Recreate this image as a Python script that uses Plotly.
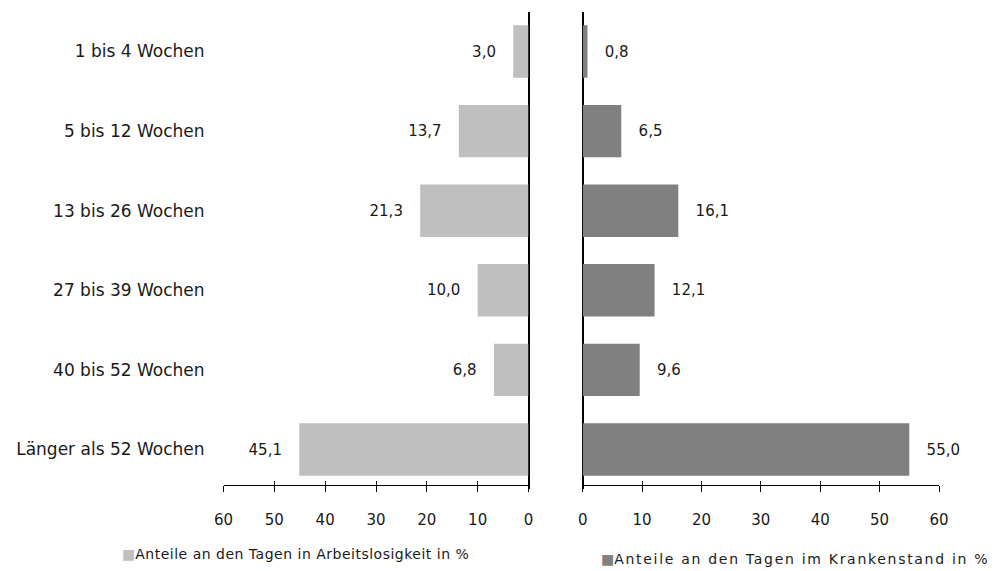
import plotly.graph_objects as go

categories = ["1 bis 4 Wochen", "5 bis 12 Wochen", "13 bis 26 Wochen",
              "27 bis 39 Wochen", "40 bis 52 Wochen", "Länger als 52 Wochen"]
arbeitslos = [3.0, 13.7, 21.3, 10.0, 6.8, 45.1]
kranken = [0.8, 6.5, 16.1, 12.1, 9.6, 55.0]
tickvals = [0, 10, 20, 30, 40, 50, 60]
name_left = "Anteile an den Tagen in Arbeitslosigkeit in %"
name_right = "Anteile an den Tagen im Krankenstand in %"

FONT = "DejaVu Sans"
C_LEFT = "#BFBFBF"
C_RIGHT = "#808080"
TXT = "#1a1a1a"
PAD = "\u00a0\u00a0\u00a0"

def fmt(v):
    return f"{v:.1f}".replace(".", ",")

fig = go.Figure()
fig.add_trace(go.Bar(
    y=categories, x=arbeitslos, orientation="h", name=name_left,
    marker=dict(color=C_LEFT, line=dict(width=0)),
    text=[fmt(v) + PAD for v in arbeitslos], textposition="outside",
    textfont=dict(size=15, color=TXT), cliponaxis=False,
    xaxis="x", yaxis="y", width=0.658, showlegend=False, hoverinfo="skip",
))
fig.add_trace(go.Bar(
    y=categories, x=kranken, orientation="h", name=name_right,
    marker=dict(color=C_RIGHT, line=dict(width=0)),
    text=[PAD + fmt(v) for v in kranken], textposition="outside",
    textfont=dict(size=15, color=TXT), cliponaxis=False,
    xaxis="x2", yaxis="y2", width=0.658, showlegend=False, hoverinfo="skip",
))
# invisible helpers carrying the inner half of the crossing tick marks
for xa, ya in (("x3", "y"), ("x4", "y2")):
    fig.add_trace(go.Scatter(
        x=[min(tickvals), max(tickvals)], y=[categories[0], categories[0]],
        mode="none", xaxis=xa, yaxis=ya, showlegend=False, hoverinfo="skip",
    ))

W, H = 998, 571
ybot, ytop = 489.3, 11.7
ydom = [1 - ybot / H, 1 - ytop / H]
xpos = 1 - 485 / H
dom_l = [223.5 / W, 528.5 / W]
dom_r = [582.7 / W, 939 / W]

axis_common = dict(
    tickvals=tickvals, ticks="outside", ticklen=6, tickcolor="black",
    tickwidth=1.3, showline=True, linecolor="black", linewidth=1.3,
    showgrid=False, zeroline=True, zerolinecolor="black", zerolinewidth=1.6,
    tickfont=dict(size=15, color=TXT), fixedrange=True, automargin=False,
    anchor="free", position=xpos, ticklabelstandoff=15,
)
inner = dict(
    tickvals=tickvals, ticks="inside", ticklen=4, tickcolor="black",
    tickwidth=1.3, showline=False, showgrid=False, zeroline=False,
    showticklabels=False, fixedrange=True, automargin=False,
    anchor="free", position=xpos,
)

fig.update_layout(
    width=W, height=H,
    margin=dict(l=0, r=0, t=0, b=0, autoexpand=False),
    paper_bgcolor="white", plot_bgcolor="rgba(0,0,0,0)",
    font=dict(family=FONT, size=15, color=TXT),
    xaxis=dict(domain=dom_l, range=[60, 0], **axis_common),
    xaxis2=dict(domain=dom_r, range=[0, 60], **axis_common),
    xaxis3=dict(domain=dom_l, range=[60, 0], overlaying="x", **inner),
    xaxis4=dict(domain=dom_r, range=[0, 60], overlaying="x2", **inner),
    yaxis=dict(domain=ydom, autorange="reversed", anchor="x", showline=False,
               ticks="", showgrid=False, tickfont=dict(size=17, color=TXT),
               ticklabelstandoff=18, fixedrange=True, automargin=False),
    yaxis2=dict(domain=ydom, autorange="reversed", anchor="x2", showline=False,
                ticks="", showgrid=False, showticklabels=False,
                fixedrange=True, automargin=False),
    annotations=[
        dict(x=119.5 / W, y=1 - 554 / H, xref="paper", yref="paper",
             xanchor="left", yanchor="middle", showarrow=False,
             text=f"<span style='color:{C_LEFT}'>■</span>"
                  f"<span style='letter-spacing:0.5px'>{name_left}</span>",
             font=dict(size=14, color=TXT)),
        dict(x=598.5 / W, y=1 - 559 / H, xref="paper", yref="paper",
             xanchor="left", yanchor="middle", showarrow=False,
             text=f"<span style='color:{C_RIGHT}'>■</span>"
                  f"<span style='letter-spacing:1.7px'>{name_right}</span>",
             font=dict(size=14, color=TXT)),
    ],
)

fig.write_html("out.html", config={"displayModeBar": False},
               post_script="document.body.style.margin='0';")
